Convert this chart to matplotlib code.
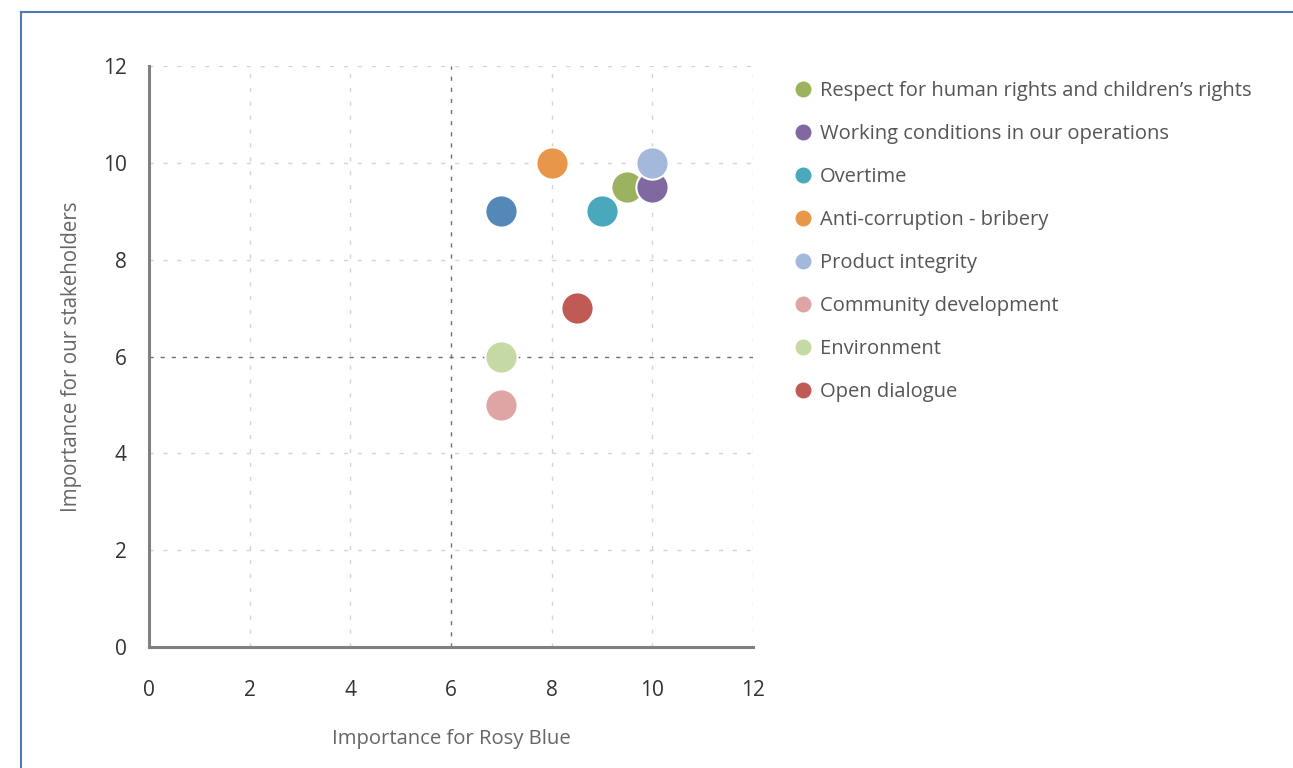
import matplotlib.pyplot as plt
from matplotlib.lines import Line2D

# data
topics = ['Respect for human rights and children\u2019s rights',
          'Working conditions in our operations',
          'Overtime',
          'Anti-corruption - bribery',
          'Product integrity',
          'Community development',
          'Environment',
          'Open dialogue']
rosy_blue = [9.5, 10, 9, 8, 10, 7, 7, 8.5]
stakeholders = [9.5, 9.5, 9, 10, 10, 5, 6, 7]
colors = ['#9bb35e', '#8068a0', '#4aa8bd', '#e8974a', '#a3b8da',
          '#dea5a4', '#c4d9a3', '#bf5a55']

# one point without a legend entry
extra_x = [7]
extra_y = [9]
extra_color = '#5388b8'

ticks = [0, 2, 4, 6, 8, 10, 12]

plt.rcParams['font.family'] = ['Open Sans', 'DejaVu Sans']

fig = plt.figure(figsize=(12.93, 7.68), dpi=100)
ax = fig.add_axes([0.1152, 0.1576, 0.4672, 0.7564])

# grid
for t in ticks[1:]:
    if t == 6:
        continue
    ax.axvline(t, color='#d4d4d4', lw=1, ls=(0, (3, 7)), zorder=0)
    ax.axhline(t, color='#d4d4d4', lw=1, ls=(0, (3, 7)), zorder=0)
ax.axvline(6, color='#707070', lw=1, ls=(0, (3, 5)), zorder=0)
ax.axhline(6, color='#707070', lw=1, ls=(0, (3, 5)), zorder=0)

ax.scatter(extra_x, extra_y, s=540, color=extra_color, edgecolor='white',
           linewidth=1.5, zorder=3)
for i in range(len(topics)):
    ax.scatter(rosy_blue[i], stakeholders[i], s=540, color=colors[i],
               edgecolor='white', linewidth=1.5, zorder=3)

ax.set_xlim(0, 12)
ax.set_ylim(0, 12)
ax.set_xticks(ticks)
ax.set_yticks(ticks)
ax.tick_params(length=0, labelsize=15, colors='#333333')
ax.tick_params(axis='x', pad=24)
ax.tick_params(axis='y', pad=16)
for s in ['top', 'right']:
    ax.spines[s].set_visible(False)
for s in ['left', 'bottom']:
    ax.spines[s].set_color('#808080')
    ax.spines[s].set_linewidth(2.2)

ax.set_xlabel('Importance for Rosy Blue', fontsize=14.6, color='#666666',
              labelpad=20)
ax.set_ylabel('Importance for our stakeholders', fontsize=14.8,
              color='#666666', labelpad=15)

handles = [Line2D([], [], ls='none', marker='o', markersize=11.5,
                  markerfacecolor=c, markeredgecolor='none') for c in colors]
fig.legend(handles, topics, loc='upper left',
           bbox_to_anchor=(0.607, 0.905), frameon=False, fontsize=14.5,
           labelcolor='#555555', labelspacing=1.14, handletextpad=0.35,
           handlelength=1.0, borderaxespad=0)

# frame around the figure (left and top edge)
fig.add_artist(Line2D([20.5 / 1293, 20.5 / 1293], [0, 1 - 12 / 768],
                      color='#4f79b3', lw=1.5, transform=fig.transFigure))
fig.add_artist(Line2D([20.5 / 1293, 1], [1 - 12 / 768, 1 - 12 / 768],
                      color='#4f79b3', lw=1.5, transform=fig.transFigure))

fig.savefig('out.png', dpi=100)
